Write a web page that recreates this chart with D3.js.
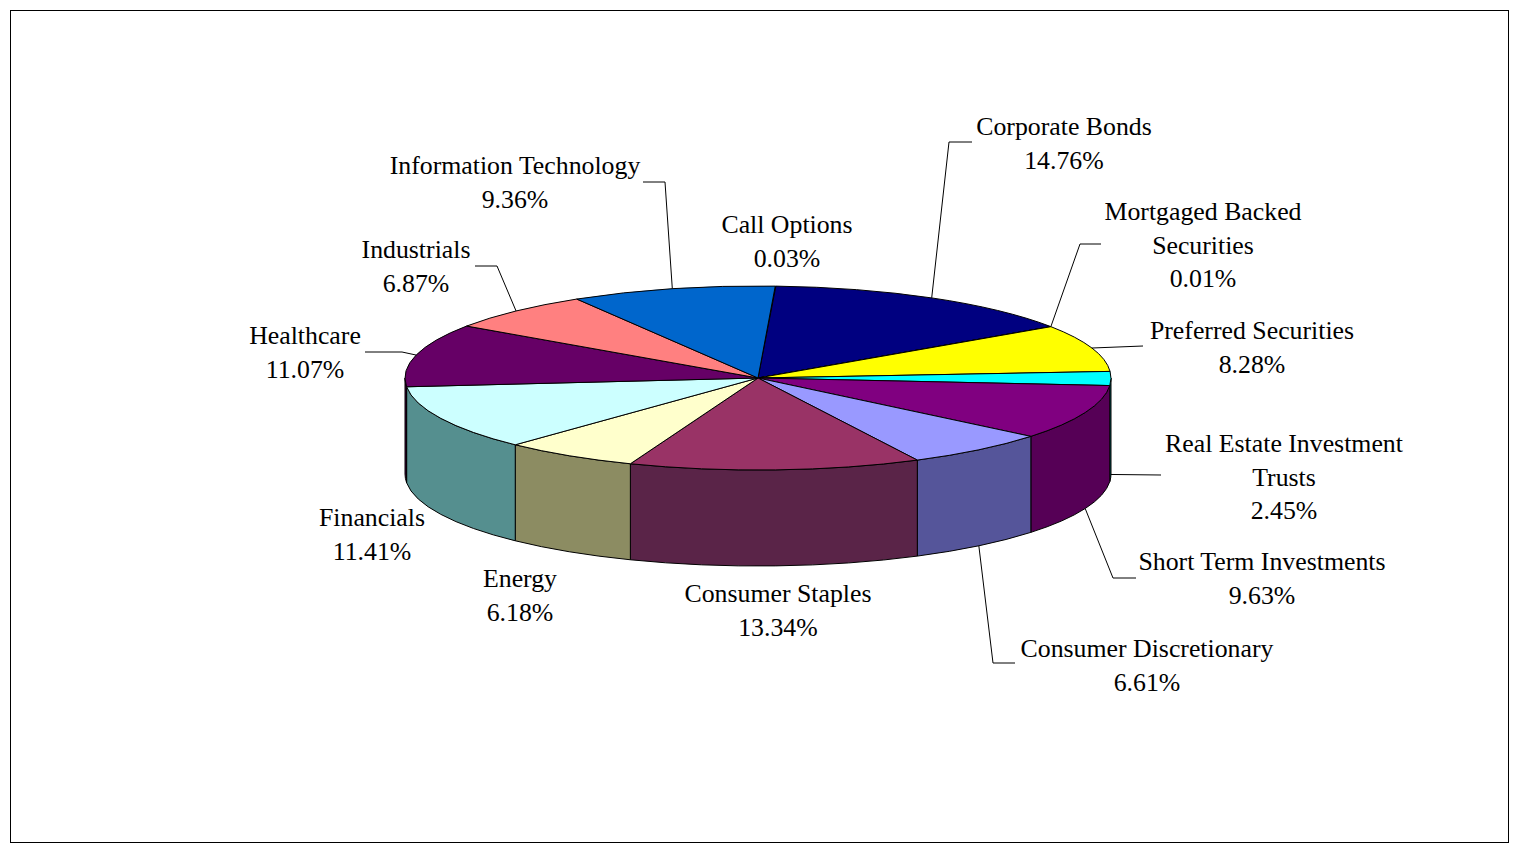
<!DOCTYPE html>
<html>
<head>
<meta charset="utf-8">
<script src="https://cdn.jsdelivr.net/npm/d3@7"></script>
<style>
  html, body { margin: 0; padding: 0; background: #fff; }
  text { font-family: "Liberation Serif", "Times New Roman", serif; font-size: 25.8px; fill: #000; }
</style>
</head>
<body>
<svg id="chart" width="1519" height="852"></svg>
<script>
// data, in drawing order (clockwise from the top)
const categories = [
  'Call Options', 'Corporate Bonds', 'Mortgaged Backed Securities', 'Preferred Securities',
  'Real Estate Investment Trusts', 'Short Term Investments', 'Consumer Discretionary',
  'Consumer Staples', 'Energy', 'Financials', 'Healthcare', 'Industrials', 'Information Technology'
];
const shares = [0.03, 14.76, 0.01, 8.28, 2.45, 9.63, 6.61, 13.34, 6.18, 11.41, 11.07, 6.87, 9.36];
const colors = [
  '#ccccff', '#000080', '#ff00ff', '#ffff00', '#00ffff', '#800080', '#9999ff',
  '#993366', '#ffffcc', '#ccffff', '#660066', '#ff8080', '#0066cc'
];
// darker wall colours (only the front ones show)
const sideColors = [
  '#70708c', '#000046', '#8c008c', '#8c8c00', '#008c8c', '#560056', '#55559a',
  '#5a2448', '#8c8c62', '#558f8f', '#3a003a', '#8c4646', '#003870'
];

// label placement: centre x, first baseline, and leader elbow / end (null = no leader)
const labelLayout = [
  { x: 787, y: 233, lines: ['Call Options'], leader: null },
  { x: 1064, y: 135, lines: ['Corporate Bonds'], leader: [[949, 142], [972, 142]] },
  { x: 1203, y: 220, lines: ['Mortgaged Backed', 'Securities'], leader: [[1080, 244], [1101, 244]] },
  { x: 1252, y: 339, lines: ['Preferred Securities'], leader: [[1143, 346], [1143, 346]] },
  { x: 1284, y: 452, lines: ['Real Estate Investment', 'Trusts'], leader: [[1161, 475], [1161, 475]] },
  { x: 1262, y: 570, lines: ['Short Term Investments'], leader: [[1113, 578], [1136, 578]] },
  { x: 1147, y: 657, lines: ['Consumer Discretionary'], leader: [[993, 663], [1015, 663]] },
  { x: 778, y: 602, lines: ['Consumer Staples'], leader: null },
  { x: 520, y: 587, lines: ['Energy'], leader: null },
  { x: 372, y: 526, lines: ['Financials'], leader: null },
  { x: 305, y: 344, lines: ['Healthcare'], leader: [[402, 352], [365, 352]] },
  { x: 416, y: 258, lines: ['Industrials'], leader: [[497, 266], [475, 266]] },
  { x: 515, y: 174, lines: ['Information Technology'], leader: [[665, 182], [643, 182]] }
];

const cx = 758, cy = 378, rx = 353, ry = 92, depth = 96;
const lineH = 33.5;
const startOffset = 2.8 * Math.PI / 180;

const svg = d3.select('#chart');

svg.append('rect')
  .attr('x', 10.5).attr('y', 10.5)
  .attr('width', 1498).attr('height', 832)
  .attr('fill', '#fff').attr('stroke', '#000').attr('stroke-width', 1);

const data = categories.map((c, i) => ({ name: c, value: shares[i], color: colors[i], side: sideColors[i] }));

const pie = d3.pie()
  .value(d => d.value)
  .sort(null)
  .startAngle(startOffset)
  .endAngle(startOffset + 2 * Math.PI);
const arcs = pie(data);

// draw in circle space, then squash to the ellipse
const k = ry / rx;
const D = depth / k;
const g = svg.append('g').attr('transform', `translate(${cx},${cy}) scale(1,${k})`);

// front walls
const walls = g.append('g');
arcs.forEach(a => {
  for (let turn = 0; turn <= 1; turn++) {
    const lo = Math.PI / 2 + turn * 2 * Math.PI, hi = 3 * Math.PI / 2 + turn * 2 * Math.PI;
    const b0 = Math.max(a.startAngle, lo), b1 = Math.min(a.endAngle, hi);
    if (b1 <= b0) continue;
    const p = d3.path();
    p.arc(0, 0, rx, b0 - Math.PI / 2, b1 - Math.PI / 2);
    p.lineTo(rx * Math.sin(b1), -rx * Math.cos(b1) + D);
    p.arc(0, D, rx, b1 - Math.PI / 2, b0 - Math.PI / 2, true);
    p.closePath();
    walls.append('path')
      .attr('d', p.toString())
      .attr('fill', a.data.side)
      .attr('stroke', '#000')
      .attr('stroke-width', 1)
      .attr('vector-effect', 'non-scaling-stroke');
  }
});

// top faces
const arcGen = d3.arc().innerRadius(0).outerRadius(rx);
g.append('g').selectAll('path')
  .data(arcs)
  .join('path')
  .attr('d', arcGen)
  .attr('fill', d => d.data.color)
  .attr('stroke', '#000')
  .attr('stroke-width', 1)
  .attr('stroke-linejoin', 'round')
  .attr('vector-effect', 'non-scaling-stroke');

// labels + leaders
const fmt = d3.format('.2f');
const labels = svg.append('g');
arcs.forEach((a, i) => {
  const L = labelLayout[i];
  if (L.leader) {
    const mid = (a.startAngle + a.endAngle) / 2;
    const front = Math.cos(mid) < 0;
    const sx = cx + rx * Math.sin(mid);
    const sy = cy - ry * Math.cos(mid) + (front ? depth : 0);
    labels.append('polyline')
      .attr('points', [[sx, sy], L.leader[0], L.leader[1]].map(p => p.join(',')).join(' '))
      .attr('fill', 'none')
      .attr('stroke', '#000')
      .attr('stroke-width', 1);
  }
  const t = labels.append('text').attr('text-anchor', 'middle');
  const lines = L.lines.concat([fmt(a.data.value) + '%']);
  lines.forEach((s, j) => {
    t.append('tspan').attr('x', L.x).attr('y', L.y + j * lineH).text(s);
  });
});
</script>
</body>
</html>
